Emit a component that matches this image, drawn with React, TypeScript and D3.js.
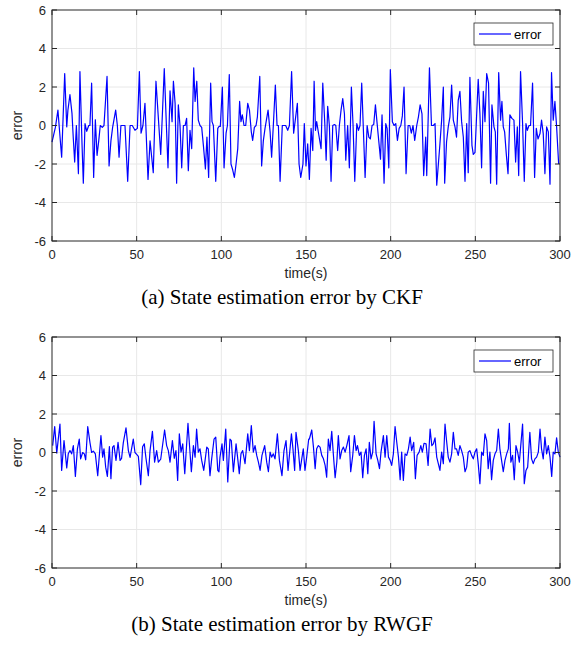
import React from "react";
import * as d3 from "d3";

const xTicks = [0, 50, 100, 150, 200, 250, 300];
const yTicks = [-6, -4, -2, 0, 2, 4, 6];
const seriesName = "error";

const ckfTime = [
  0, 2, 3.5, 4.3, 5.7, 7.5, 8.7, 9.4, 10.6, 11.8, 12.6, 13.4, 14.4, 15.6, 16.5, 17.7, 18.5, 19.5, 20.5, 21.7,
  22.4, 23.4, 24.6, 25.6, 26.6, 27.6, 28.5, 29.7, 30.7, 32.5, 33.7, 34.8, 35.8, 37.6, 38.6, 39.6, 40.7, 43.1,
  44.7, 46.1, 47.4, 49, 50.4, 51.6, 52.6, 53.7, 54.9, 56.7, 57.9, 59.8, 61.4, 64.2, 66.3, 68.5, 69.7, 70.9,
  71.7, 72.7, 73.6,
  74.6, 75.6, 76.6, 77.6, 78.6, 79.5, 80.5, 81.5, 82.5, 83.7, 84.5, 85.5, 86.4, 87.4, 88.4, 89.4, 90.6, 91.5,
  92.5, 93.7, 94.5, 95.3, 96.7, 97.9, 98.6, 99.4, 100.6, 101.6, 102.8, 103.6, 104.7, 105.7, 106.7, 107.7,
  108.7, 109.7, 110.8, 111.6, 112.4, 113.4, 114.4, 115.6, 116.6, 117.7, 118.5, 119.5, 120.5, 121.3, 122.7,
  123.8, 124.8, 125.8, 127.6, 128.8, 129.7, 130.7, 131.9, 132.9, 133.7, 134.7, 136.0, 137.0, 138.0, 139.2,
  140.2, 141.5, 142.7, 144.9, 145.9, 146.9, 148.2, 149.0, 150.0, 151.0, 152.0,
  153.0, 154.0, 154.8, 155.6, 156.3, 157.3, 158.9, 159.9, 161.1, 161.9, 162.8, 163.8, 164.8, 165.8, 166.8,
  167.6, 168.7, 169.7, 170.7, 171.7, 172.7, 173.5, 174.6, 175.6, 176.8, 177.8, 178.8, 180.0, 181.0, 181.9,
  182.9, 183.9, 184.9, 186.1, 187.1, 188.0, 189.0, 190.0, 191.0, 192.0, 194.0, 194.9, 196.1, 197.1, 197.9,
  198.9, 199.8, 201.0, 202.0, 203.0, 204.0, 205.0, 206.0, 206.9, 207.9, 209.1, 210.3, 211.3, 212.2, 213.2,
  214.2, 215.4, 216.4, 217.4, 218.5, 219.5, 220.7, 221.3, 222.9, 224.1, 225.2, 226.2, 227.2,
  229.1, 230.1, 231.1, 231.9, 233.0, 234.0, 235.0, 236.0, 237.0, 238.0, 238.9, 239.9, 240.9, 241.9, 242.9,
  243.9, 244.9, 245.8, 246.8, 248.0, 248.8, 249.8, 251.7, 252.7, 253.7, 254.7, 255.7, 256.7, 257.8, 259.0,
  259.8, 261.0, 261.8, 262.6, 263.8, 264.9, 265.7, 266.5, 267.3, 268.3, 269.3, 270.4, 271.6, 272.8, 273.8,
  274.8, 275.6, 276.7, 277.9, 278.9, 279.9, 280.7, 281.7, 282.6, 283.8, 285.0, 286.0, 287.0, 288.2, 289.1,
  290.1, 291.1, 292.1, 293.1, 294.1, 295.0, 296.0, 297.0, 298.0, 299.2,
];
const ckfError = [
  -0.86, -0.1, 0.8, -0.1, -1.65, 2.7, -0.07, 0.8, 1.6, 0.63, -0.7, -1.9, 0, -2.5, 2.8, -0.9, -3.0, 0.1, -0.3, 0,
  0, 2.2, -2.7, 0.3, -1.55, -0.8, 0, -0.1, 0, 2.55, -2.1, -0.8, -0.1, 0.8, 0, -1.65, 0, 0,
  -2.9, 0, 0, -0.25, -0.15, 2.8, -0.4, 0, 1.15, -2.8, -0.8, -2.45, 2.3, -1.5, 2.95, -2.2, 1.8, 0.2,
  2.3, 1.15, -3.0,
  1.07, 0, -2.2, 0, 0, 0.37, -2.35, -0.25, -1.2, 3.0, 1.25, 2.3, 0.28, 0, -0.1, -1.03, -2.26, -0.6,
  -2.7, 2.2, 0.2, 0, -2.9, -0.15, -0.05, -0.05, 2.0, -2.2, -0.4, 0, 2.65, -2.0, -2.3, -2.7,
  -2.0, -1.2, 1.25, 0.2, 0.55, 0, 0, 1.15, 0.8, -0.33, -0.77, -0.1, 0, 0.45, 2.55,
  -2.1, -0.8, -0.15, 0.8, -0.33, -1.65, 0, 2.1, 0, 0, -2.9, 0, 0, 0, -0.25,
  0, 2.8, -0.4, 1.15, -2.0, -2.7, -2.0, 0.1, -2.1, -0.95, -2.8,
  -0.15, -1.3, 2.3, -0.25, 0.2, -0.35, -1.2, 2.2, 0.1, -1.8, 1.0, 0, -2.9, 0, 0.05,
  0, -1.3, 0, 0.8, 1.4, 0.6, -1.8, 0, -2.2, 2.0, 0, -2.9, 0.1, -0.25, 0,
  2.2, -0.25, -2.7, 0, -0.6, -0.7, 0, 0.05, 1.07, 0.1, -1.75, 0.55, -3.0, 0.1, -0.15,
  -2.2, 2.9, 0.2, 0, 0.1, -0.77, -0.15, 0, 0.5, 2.0, -2.5, 0, 0, -0.4, 0,
  -0.77, 0, 0.45, 1.07, 0.6, -2.6, -0.6, -2.6, 3.0, 0, 0, 0.1, -3.1,
  -0.95, 0.28, 2.0, -3.0, -0.86, -0.07, 0.45, 2.1, 0.28, -0.07, -0.6, 1.3, 1.77, 0.2, -0.6,
  -2.9, 0.1, -2.45, 2.5, -1.03, -1.5, -1.4, 2.4, 0.63, -2.2, 1.77, 0.2, 2.7, 2.2, -3.0,
  1.07, -0.07, -0.33, -3.05, 2.75, 0.28, 1.25, -0.07, -0.33, -1.5, -2.5, 0.55, 0.37, 0.28, -1.9,
  -0.07, -2.6, 2.8, 0.1, -2.9, 0.1, -0.25, 0, 0, 2.2, -2.7, -0.15, -0.7, -0.42, 0.28,
  -0.42, -2.5, -0.07, -0.33, -3.05, 2.75, 0.28, 1.25, -0.07, -2.0,
];

const rwgfTime = [
  0.4, 1.6, 2.8, 4.7, 5.7, 7.1, 8.7, 9.6, 10.6, 11.6, 12.6, 13.8, 15.0, 16.1, 16.9, 18.1, 19.1, 19.9, 21.1,
  22.4, 23.4, 24.4, 25.6, 27.0, 28.9, 29.9, 30.7, 31.7, 32.7, 33.9, 34.8, 35.8, 36.6, 37.8, 39.0, 40.2, 41.1,
  42.1, 43.7, 45.1, 46.1, 48.0, 49.0, 50.0, 51.0, 52.4, 53.5, 54.5, 55.5, 56.9, 57.9, 59.3, 60.6, 61.8, 62.8,
  64.2, 66.5, 67.7, 68.7, 69.7, 71.1, 72.2, 73.2, 74.2,
  75.2, 76.2, 77.2, 78.4, 80.3, 82.3, 83.5, 84.5, 85.4, 86.4, 87.4, 88.4, 89.6, 90.4, 91.4, 92.3, 93.3, 94.3,
  95.7, 96.7, 97.9, 98.6, 99.2, 100.4, 101.2, 102.6, 103.8, 105.1, 105.9, 107.1, 108.7, 109.7, 110.6, 111.6,
  112.6, 114.0, 115.6, 116.6, 117.7, 118.9, 119.9, 120.9, 121.9, 122.9, 124.0, 125.6, 126.8, 127.8, 128.8,
  129.7, 130.7, 131.7, 133.1, 134.3, 135.8, 137.0, 138.2, 139.4, 140.2, 141.4, 142.3, 143.3, 144.1, 145.5,
  146.5, 147.5, 148.4, 149.4, 150.4, 151.6,
  152.0, 153.4, 154.4, 155.4, 156.3, 157.3, 158.3, 159.3, 160.3, 161.3, 162.2, 163.2, 164.2, 165.2, 166.2,
  167.2, 168.2, 169.1, 170.1, 171.1, 172.1, 173.1, 174.1, 175.4, 176.4, 177.6, 178.6, 179.6, 180.4, 181.5,
  182.5, 183.5, 184.5, 185.5, 186.5, 187.4, 188.4, 189.4, 190.2, 191.4, 192.4, 193.4, 194.3, 195.7, 196.7,
  197.7, 198.7, 199.7, 200.6, 201.6, 202.6, 203.6, 204.6, 205.6, 206.5, 207.5, 208.5, 209.5, 210.5, 211.5,
  212.4, 213.6, 214.6, 215.6, 216.8, 217.8, 218.7, 219.7, 220.9, 222.1, 223.3, 224.3, 225.2, 226.2, 227.2,
  229.1, 230.1, 231.1, 232.1, 233.0, 234.0, 235.0, 236.0, 237.0, 238.0, 238.9, 239.9, 240.9, 241.9, 242.9,
  243.9, 244.9, 245.8, 246.8, 247.8, 248.8, 249.8, 250.8, 251.7, 252.7, 253.7, 254.7, 255.7, 256.7, 257.6,
  258.6, 259.6, 260.6, 261.6, 262.6, 263.6, 264.5, 265.5, 266.5, 267.5, 268.5, 269.5, 270.1, 271.0, 272.0,
  273.0, 274.0, 275.0, 276.0, 277.9, 278.9, 279.9, 280.9, 282.2, 283.2, 284.2, 285.2, 286.2, 287.2, 288.2,
  289.1, 290.1, 291.1, 292.1, 293.1, 294.1, 295.1, 296.0, 297.0, 298.0, 299.0, 300.0,
];
const rwgfError = [
  0.36, 1.35, -0.03, 1.48, -0.93, 0.62, -0.8, -0.07, 0.1, -0.07, 0.36, -1.24, 0.19, 0.7, -0.33, 0, -0.07, -0.38, 1.35,
  0.53, 0, 0.07, -0.07, -1.2, 0.88, -0.24, 0.19, -0.76, -1.24, 0.31, -1.36, 0.28, 0.36, -0.41, 0.53, -0.41, -0.3,
  0.5, 1.28, 0.1, -0.25, 0.7, 0, -0.1, -0.2, -1.67, 0.3, 0.45, -0.3, -1.2, 0.1, 1.1, -0.5, 0.1, -0.5,
  -0.35, 1.17, 0.36, 0.1, -0.5, 0.62, -0.3, 0.1, -1.45,
  0.97, 0.02, 0.45, -1.1, 1.52, -1.0, 0.36, -0.24, 1.22, 0.02, 0.19, -0.41, -0.93, -0.41, 0.28, 0.19, -1.2, -0.33,
  0.7, 0.8, -0.93, -1.0, -0.24, 0.45, -0.41, 1.22, -1.53, 0.7, 0.62, -1.0, 0.45, -0.33, -1.1, -0.07,
  0.1, -0.58, 0.97, 0.1, 1.4, 0.02, 0.36, -0.15, -0.5, -0.93, -0.15, 0.36, -0.5, -1.0, 0.02,
  -0.24, -0.07, -0.33, 0.97, -0.41, -1.2, 0.1, 0.62, -0.93, -0.15, 0.97, 0.19, -0.93, 1.05, 0.1,
  -0.93, -0.33, 0.19, -0.93, -0.24, 0.7,
  0.7, 1.17, 0.28, -0.84, 0.19, 0.36, 0.28, -0.15, -0.33, -0.67, -1.28, 0.7, 0.1, 1.1, -0.15,
  -1.31, -0.5, 0.88, -0.33, 0.1, 0.28, 0.02, 0.36, 0.88, -1.0, -0.15, 0.88, 0.1, 0.36, -0.15,
  0.02, -1.31, -0.15, 0.19, -1.1, 0.53, -0.33, 0.02, 1.62, -0.07, -0.41, -0.84, 0.02, 0.88, -0.24,
  0.88, -0.24, -0.41, -0.67, -0.07, 1.35, 0.53, -0.24, -1.41, 0.02, -1.45, -0.07, -0.15, 0.19, 0.8,
  0.1, 0.53, -1.36, -0.15, 0.02, 0.36, 0.02, 0.48, 0.45, -0.67, 1.22, 0.36, 0.45, 0.76, -0.24,
  -0.93, 0.02, -0.58, 1.48, 0.62, -0.24, -0.5, -0.07, 1.05, 0.19, 0.19, -0.15, 0.36, 0.1, -0.24,
  -1.0, -0.76, 0.02, 0.1, -0.15, -0.33, 0.02, 0.19, -0.58, -1.62, 0.02, -0.15, 0.97, 0.62, -0.84,
  0.02, -1.41, -0.41, -0.07, 0.1, 1.22, 0.19, -0.41, -1.0, -0.41, -0.07, 0.19, 1.52, -0.5, -0.15,
  -1.41, 0.36, 0.02, -0.5, 1.48, -1.62, -0.93, -0.76, 1.05, -0.33, -0.58, -0.33, -0.24, 0.02, 1.22,
  0.19, -0.33, 0.8, -0.07, 0.36, -0.24, -1.24, 0.02, -0.07, 0.76, 0.02, -0.24,
];

const tickFont = "'Liberation Sans', Arial, Helvetica, sans-serif";
const captionFont = "'Liberation Serif', 'Times New Roman', serif";
const axisColor = "#262626";
const gridColor = "#e8e8e8";

type PanelProps = {
  top: number;
  times: number[];
  values: number[];
  caption: string;
};

function Panel({ top, times, values, caption }: PanelProps) {
  const left = 52;
  const right = 560;
  const plotH = 231;
  const bottom = top + plotH;
  const x = d3.scaleLinear().domain([0, 300]).range([left, right]);
  const y = d3.scaleLinear().domain([-6, 6]).range([bottom, top]);
  const pts: [number, number][] = times.map((t, i) => [t, values[i]]);
  const line = d3
    .line<[number, number]>()
    .x((d) => x(d[0]))
    .y((d) => y(d[1]));
  const tickLen = 5;
  const legX = 474;
  const legY = top + 13;
  return (
    <g>
      <rect x={left} y={top} width={right - left} height={plotH} fill="#ffffff" />
      {xTicks.slice(1, -1).map((t) => (
        <line key={"gx" + t} x1={x(t)} x2={x(t)} y1={top} y2={bottom} stroke={gridColor} strokeWidth={1} />
      ))}
      {yTicks.slice(1, -1).map((t) => (
        <line key={"gy" + t} x1={left} x2={right} y1={y(t)} y2={y(t)} stroke={gridColor} strokeWidth={1} />
      ))}
      <path d={line(pts) || ""} fill="none" stroke="#0000ff" strokeWidth={1.2} strokeLinejoin="round" />
      <rect x={left} y={top} width={right - left} height={plotH} fill="none" stroke={axisColor} strokeWidth={1} />
      {xTicks.map((t) => (
        <g key={"tx" + t}>
          <line x1={x(t)} x2={x(t)} y1={bottom} y2={bottom - tickLen} stroke={axisColor} />
          <line x1={x(t)} x2={x(t)} y1={top} y2={top + tickLen} stroke={axisColor} />
          <text x={x(t)} y={bottom + 18} textAnchor="middle" fontFamily={tickFont} fontSize={13} fill={axisColor}>
            {t}
          </text>
        </g>
      ))}
      {yTicks.map((t) => (
        <g key={"ty" + t}>
          <line x1={left} x2={left + tickLen} y1={y(t)} y2={y(t)} stroke={axisColor} />
          <line x1={right} x2={right - tickLen} y1={y(t)} y2={y(t)} stroke={axisColor} />
          <text x={left - 6} y={y(t) + 4.5} textAnchor="end" fontFamily={tickFont} fontSize={13} fill={axisColor}>
            {t}
          </text>
        </g>
      ))}
      <text
        transform={`translate(22,${(top + bottom) / 2}) rotate(-90)`}
        textAnchor="middle"
        fontFamily={tickFont}
        fontSize={14}
        fill={axisColor}
      >
        {seriesName}
      </text>
      <text x={(left + right) / 2} y={bottom + 37} textAnchor="middle" fontFamily={tickFont} fontSize={14} fill={axisColor}>
        time(s)
      </text>
      <text x={282} y={bottom + 63} textAnchor="middle" fontFamily={captionFont} fontSize={21} fill="#000000">
        {caption}
      </text>
      <rect x={legX} y={legY} width={79} height={22} fill="#ffffff" stroke={axisColor} strokeWidth={0.8} />
      <line x1={legX + 5} x2={legX + 37} y1={legY + 11} y2={legY + 11} stroke="#0000ff" strokeWidth={1.2} />
      <text x={legX + 40} y={legY + 15.5} fontFamily={tickFont} fontSize={13} fill="#000000">
        {seriesName}
      </text>
    </g>
  );
}

export default function App() {
  return (
    <svg width={575} height={645} style={{ position: "absolute", left: 0, top: 0, background: "#ffffff" }}>
      <rect width={575} height={645} fill="#ffffff" />
      <Panel top={10} times={ckfTime} values={ckfError} caption="(a) State estimation error by CKF" />
      <Panel top={337} times={rwgfTime} values={rwgfError} caption="(b) State estimation error by RWGF" />
    </svg>
  );
}
